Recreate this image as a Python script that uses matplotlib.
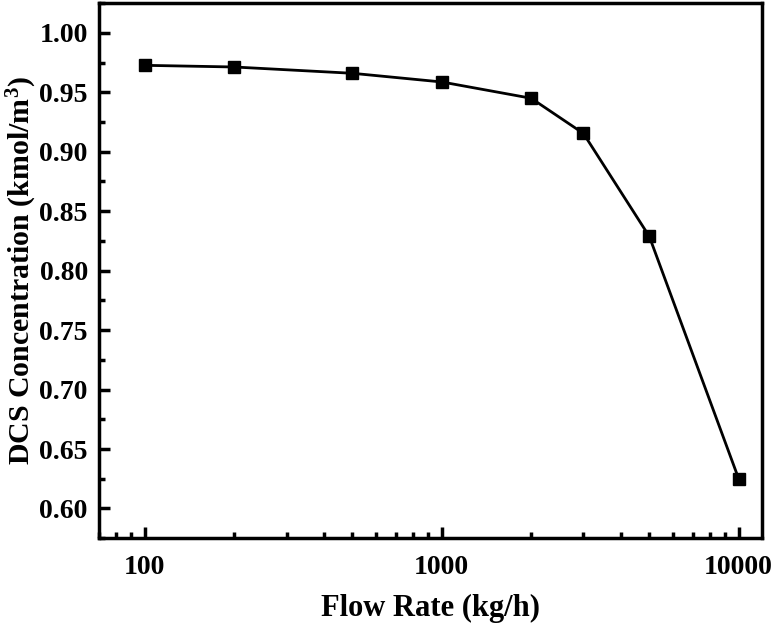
import numpy as np
import matplotlib.pyplot as plt
from matplotlib.ticker import MultipleLocator, LogLocator, FixedLocator, FixedFormatter

plt.rcParams['font.family'] = ['Liberation Serif', 'DejaVu Serif']
plt.rcParams['font.weight'] = 'bold'
plt.rcParams['mathtext.fontset'] = 'custom'
plt.rcParams['mathtext.rm'] = 'Liberation Serif:bold'
plt.rcParams['mathtext.default'] = 'rm'

# 유량 (kg/h) 과 DCS 농도
flow_rate = [100, 200, 500, 1000, 2000, 3000, 5000, 10000]
dcs_conc = [0.9727, 0.9713, 0.966, 0.9587, 0.945, 0.9154, 0.8288, 0.625]

x_ticks = [100, 1000, 10000]
x_tick_labels = ['100', '1000', '10000']

fig = plt.figure(figsize=(7.73, 6.28), dpi=100)
ax = fig.add_axes([0.128, 0.143, 0.858, 0.852])

ax.plot(flow_rate, dcs_conc, color='black', linewidth=2, marker='s',
        markersize=9, markerfacecolor='black', markeredgecolor='black')

ax.set_xscale('log')
ax.set_xlim(70, 12000)
ax.set_ylim(0.575, 1.025)

ax.xaxis.set_major_locator(FixedLocator(x_ticks))
ax.xaxis.set_major_formatter(FixedFormatter(x_tick_labels))
ax.xaxis.set_minor_locator(LogLocator(base=10, subs=np.arange(2, 10)))
ax.xaxis.set_minor_formatter(plt.NullFormatter())
ax.yaxis.set_major_locator(MultipleLocator(0.05))
ax.yaxis.set_minor_locator(MultipleLocator(0.025))
ax.yaxis.set_major_formatter(plt.FormatStrFormatter('%.2f'))

ax.tick_params(which='both', direction='in', top=False, right=False, width=2.5)
ax.tick_params(which='major', length=8, labelsize=20)
ax.tick_params(axis='x', which='major', pad=12)
ax.tick_params(axis='y', which='major', pad=8)
ax.tick_params(which='minor', length=4.5)
for s in ax.spines.values():
    s.set_linewidth(2.5)

ax.set_xlabel('Flow Rate (kg/h)', fontsize=22, fontweight='bold')
ax.set_ylabel('DCS Concentration (kmol/m$^3$)', fontsize=21.5, fontweight='bold')
ax.xaxis.set_label_coords(0.5, -0.105)
ax.yaxis.set_label_coords(-0.09, 0.5)

fig.savefig('out.png', dpi=100)
